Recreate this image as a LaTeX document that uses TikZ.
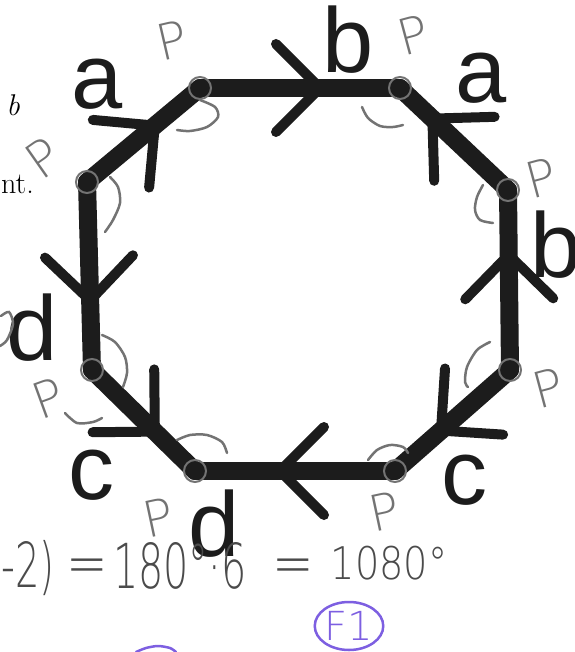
\documentclass[tikz,border=0pt]{standalone}
\usepackage{fontspec}
\usepackage{xcolor}
\usepackage{tikz}
\usetikzlibrary{decorations.markings,shapes.geometric}

\newfontfamily\labelfont{Liberation Sans}
\newfontfamily\handfont{DejaVu Sans ExtraLight}

\definecolor{scanblack}{RGB}{28,28,28}
\definecolor{pencil}{RGB}{115,115,115}
\definecolor{pendark}{RGB}{75,75,75}
\definecolor{penpurple}{RGB}{125,95,225}

\begin{document}
\begin{tikzpicture}[
    x=1pt, y=-1pt,
    side/.style={
        draw=scanblack,
        line width=18pt,
        line cap=round,
        line join=round
    },
    chevron/.style={
        postaction={decorate, decoration={markings,
            mark=at position #1 with {
                \draw[scanblack, line width=10pt, line cap=round, line join=round]
                    (-44,44) -- (0,0) -- (-44,-44);
            }}}
    },
    lab/.style={
        inner sep=0pt,
        text=scanblack,
        font=\labelfont\fontsize{92}{92}\selectfont
    },
    pmark/.style={
        inner sep=0pt,
        text=pencil,
        font=\handfont\fontsize{50}{50}\selectfont
    },
    sum/.style={
        inner sep=0pt,
        text=pendark,
        font=\handfont\fontsize{62}{62}\selectfont
    },
    serif/.style={
        inner sep=0pt,
        font=\rmfamily\fontsize{30}{30}\selectfont
    },
    ring/.style={draw=pencil, line width=2pt},
    pencurve/.style={draw=pencil, line width=2.5pt, line cap=round},
    grade/.style={
        ellipse,
        draw=penpurple,
        line width=2.5pt,
        text=penpurple,
        inner sep=0pt,
        minimum width=62pt,
        minimum height=48pt,
        font=\handfont\fontsize{40}{40}\selectfont
    }
]
    \useasboundingbox (0,0) rectangle (574,652);

    % corners of the octagon
    \coordinate (v1) at (200,88);
    \coordinate (v2) at (400,88);
    \coordinate (v3) at (508,190);
    \coordinate (v4) at (510,370);
    \coordinate (v5) at (395,471);
    \coordinate (v6) at (195,471);
    \coordinate (v7) at (92,370);
    \coordinate (v8) at (87,182);

    % sides, drawn in the arrow direction
    \draw[side, chevron=0.6] (v8) -- (v1);
    \draw[side, chevron=0.6] (v1) -- (v2);
    \draw[side, chevron=0.7] (v3) -- (v2);
    \draw[side, chevron=0.64] (v4) -- (v3);
    \draw[side, chevron=0.63] (v8) -- (v7);
    \draw[side, chevron=0.61] (v7) -- (v6);
    \draw[side, chevron=0.575] (v5) -- (v6);
    \draw[side, chevron=0.6] (v4) -- (v5);

    % side labels
    \node[lab] (la1) at (97,84) {a};
    \node[lab] (lb1) at (348,40) {b};
    \node[lab] (la2) at (481,78) {a};
    \node[lab] (lb2) at (556,245) {b};
    \node[lab] (ld1) at (32,328) {d};
    \node[lab] (lc1) at (91,475) {c};
    \node[lab] (ld2) at (214,524) {d};
    \node[lab] (lc2) at (464,480) {c};

    % pencil marks at the corners
    \foreach \v in {v1,v2,v3,v4,v5,v6,v7,v8}
        \draw[ring] (\v) circle[radius=11];
    \draw[pencurve] plot[smooth] coordinates {(200,100) (215,107) (218,117) (207,127) (190,131) (177,130)};
    \draw[pencurve] plot[smooth] coordinates {(362,107) (368,118) (380,126) (393,127) (403,125)};
    \draw[pencurve] plot[smooth] coordinates {(483,185) (477,197) (475,210) (480,220) (493,223)};
    \draw[pencurve] plot[smooth] coordinates {(490,342) (477,350) (467,367) (465,382) (468,387)};
    \draw[pencurve] plot[smooth] coordinates {(368,460) (377,450) (390,445) (403,447) (408,453)};
    \draw[pencurve] plot[smooth] coordinates {(177,440) (190,435) (207,435) (222,442) (227,453)};
    \draw[pencurve] plot[smooth] coordinates {(102,335) (115,342) (125,357) (127,373) (123,387)};
    \draw[pencurve] plot[smooth] coordinates {(110,177) (118,187) (120,203) (113,220) (105,232)};
    \draw[pencurve] plot[smooth] coordinates {(65,413) (77,423) (93,422) (102,418)};
    \draw[pencurve] plot[smooth] coordinates {(1,316) (9,312) (13,324) (7,340) (0,346)};

    \node[pmark, rotate=13] (p1) at (172,40) {P};
    \node[pmark, rotate=15] (p2) at (413,35) {P};
    \node[pmark, rotate=15] (p3) at (541,178) {P};
    \node[pmark, rotate=15] (p4) at (548,388) {P};
    \node[pmark, rotate=12] (p5) at (384,512) {P};
    \node[pmark, rotate=12] (p6) at (158,518) {P};
    \node[pmark, rotate=20] (p7) at (48,398) {P};
    \node[pmark, rotate=35] (p8) at (43,158) {P};

    % printed text at the left margin
    \node[serif] (bref) at (13,105) {\itshape b};
    \node[serif, anchor=east] (ntref) at (34,184) {nt.};

    % working below the figure
    \node[sum, xscale=0.62] (s1) at (28,568) {-2)};
    \node[sum, xscale=0.8] (s2) at (87,572) {=};
    \node[sum, xscale=0.64] (s3) at (180,566) {180°·6};
    \node[sum, xscale=0.8] (s4) at (293,572) {=};
    \node[sum, xscale=0.85, font=\handfont\fontsize{45}{45}\selectfont] (s5) at (389,563) {1080°};

    \node[grade] (mark) at (349,626) {F1};
    \draw[penpurple, line width=2.5pt, line cap=round] plot[smooth] coordinates {(136,652) (146,648) (158,646) (170,648) (176,652)};
\end{tikzpicture}
\end{document}
